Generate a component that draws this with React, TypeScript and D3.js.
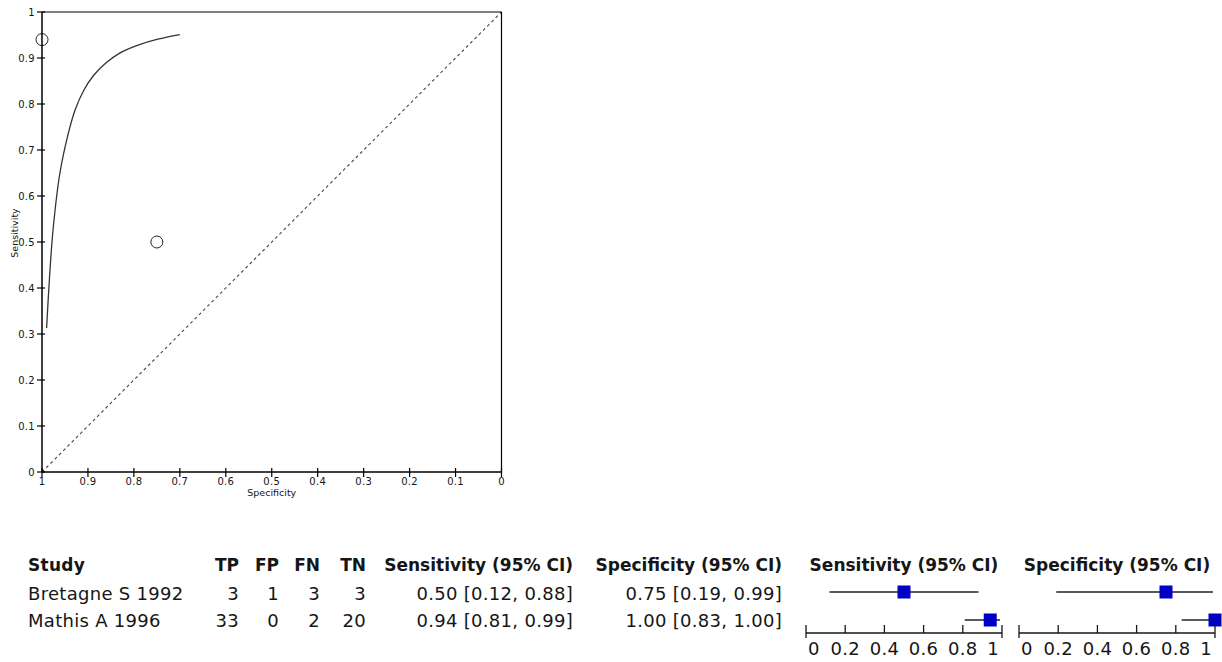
import React from "react";
import * as d3 from "d3";

// study table
const studies = ["Bretagne S 1992", "Mathis A 1996"];
const tp = [3, 33];
const fp = [1, 0];
const fn = [3, 2];
const tn = [3, 20];
const sens = [0.5, 0.94];
const sensLo = [0.12, 0.81];
const sensHi = [0.88, 0.99];
const spec = [0.75, 1.0];
const specLo = [0.19, 0.83];
const specHi = [0.99, 1.0];

// SROC curve (specificity, sensitivity)
const srocSpec = [0.99, 0.984, 0.976, 0.961, 0.943, 0.928, 0.909, 0.887, 0.861, 0.83, 0.791, 0.748, 0.7];
const srocSens = [0.313, 0.417, 0.526, 0.65, 0.735, 0.787, 0.83, 0.863, 0.889, 0.911, 0.928, 0.941, 0.951];

const rocTicks = [0, 0.1, 0.2, 0.3, 0.4, 0.5, 0.6, 0.7, 0.8, 0.9, 1];
const rocTickLabels = ["0", "0.1", "0.2", "0.3", "0.4", "0.5", "0.6", "0.7", "0.8", "0.9", "1"];
const forestTicks = [0, 0.2, 0.4, 0.6, 0.8, 1];
const forestTickLabels = ["0", "0.2", "0.4", "0.6", "0.8", "1"];

const FONT = "'DejaVu Sans', Verdana, sans-serif";
const INK = "#161616";

const ForestAxis = ({ scale, y }) => {
  const [x0, x1] = scale.range();
  return (
    <g>
      <line x1={x0} x2={x1} y1={y} y2={y} stroke={INK} strokeWidth={1.5} />
      {forestTicks.map((t, i) => {
        const end = i === 0 || i === forestTicks.length - 1;
        return (
          <line key={"t" + i} x1={scale(t)} x2={scale(t)} y1={y - 8} y2={end ? y + 5 : y}
            stroke={INK} strokeWidth={1.3} />
        );
      })}
      {forestTickLabels.map((lab, i) => {
        const first = i === 0;
        const last = i === forestTickLabels.length - 1;
        return (
          <text key={"l" + i}
            x={scale(forestTicks[i]) + (first ? 2 : last ? -3 : 0)}
            y={y + 22}
            textAnchor={first ? "start" : last ? "end" : "middle"}
            fontSize={18} letterSpacing={0.3} fill={INK}>{lab}</text>
        );
      })}
    </g>
  );
};

const ForestRows = ({ scale, est, lo, hi, rowY }) => (
  <g>
    {est.map((v, i) => (
      <g key={i}>
        <line x1={scale(lo[i])} x2={scale(hi[i])} y1={rowY[i]} y2={rowY[i]} stroke="#222" strokeWidth={1.4} />
        <rect x={scale(v) - 6.5} y={rowY[i] - 6.5} width={13} height={13} fill="#0000c4" />
      </g>
    ))}
  </g>
);

export default function App() {
  // ROC panel
  const x = d3.scaleLinear().domain([1, 0]).range([42, 501.5]);
  const y = d3.scaleLinear().domain([0, 1]).range([472, 12]);

  const curve = d3
    .line<number>()
    .x((d, i) => x(srocSpec[i]))
    .y((d) => y(d))
    .curve(d3.curveCatmullRom.alpha(0.5));

  // table + forest layout
  const headerY = 571;
  const rowBase = [600, 627];
  const rowMid = [592, 620];
  const sensScale = d3.scaleLinear().domain([0, 1]).range([806, 1002]);
  const specScale = d3.scaleLinear().domain([0, 1]).range([1019, 1215]);
  const axisY = 633;

  const cols = [
    { label: "TP", right: 239, vals: tp.map(String) },
    { label: "FP", right: 279, vals: fp.map(String) },
    { label: "FN", right: 320, vals: fn.map(String) },
    { label: "TN", right: 366, vals: tn.map(String) },
    {
      label: "Sensitivity (95% CI)", right: 573,
      vals: sens.map((v, i) => `${v.toFixed(2)} [${sensLo[i].toFixed(2)}, ${sensHi[i].toFixed(2)}]`),
    },
    {
      label: "Specificity (95% CI)", right: 782,
      vals: spec.map((v, i) => `${v.toFixed(2)} [${specLo[i].toFixed(2)}, ${specHi[i].toFixed(2)}]`),
    },
  ];

  return (
    <svg width={1222} height={662} fontFamily={FONT}
      style={{ position: "absolute", left: 0, top: 0, background: "#fff" }}>
      {/* ROC space */}
      <g>
        <line x1={x(1)} x2={x(0)} y1={y(0)} y2={y(1)} stroke="#444" strokeWidth={1.1} strokeDasharray="3,3" />
        <path d={curve(srocSens) || ""} fill="none" stroke="#333" strokeWidth={1.3} />
        {sens.map((s, i) => (
          <circle key={i} cx={x(spec[i])} cy={y(s)} r={6} fill="none" stroke="#222" strokeWidth={1} />
        ))}
        {/* frame */}
        <line x1={x(1)} x2={x(0)} y1={y(1)} y2={y(1)} stroke="#000" strokeWidth={1.2} />
        <line x1={x(0)} x2={x(0)} y1={y(1)} y2={y(0)} stroke="#000" strokeWidth={1.2} />
        <line x1={x(1)} x2={x(0)} y1={y(0)} y2={y(0)} stroke="#000" strokeWidth={1.5} />
        <line x1={x(1)} x2={x(1)} y1={y(1)} y2={y(0)} stroke="#000" strokeWidth={1.5} />
        {rocTicks.map((t, i) => (
          <g key={"y" + i}>
            <line x1={x(1) - 5} x2={x(1) + 3} y1={y(t)} y2={y(t)} stroke="#000" strokeWidth={1.2} />
            <text x={x(1) - 7} y={y(t) + 3.5} textAnchor="end" fontSize={10} letterSpacing={0.3} fill={INK}>
              {rocTickLabels[i]}
            </text>
          </g>
        ))}
        {rocTicks.map((t, i) => (
          <g key={"x" + i}>
            <line x1={x(t)} x2={x(t)} y1={y(0) - 4} y2={y(0) + 5} stroke="#000" strokeWidth={1.2} />
            <text x={x(t)} y={y(0) + 13} textAnchor="middle" fontSize={10} letterSpacing={0.3} fill={INK}>
              {rocTickLabels[i]}
            </text>
          </g>
        ))}
        <text x={(x(1) + x(0)) / 2} y={496} textAnchor="middle" fontSize={9.5} fill={INK}>Specificity</text>
        <text transform={`translate(18,233) rotate(-90)`} textAnchor="middle" fontSize={9.5} fill={INK}>Sensitivity</text>
      </g>

      {/* study table */}
      <g fill={INK} fontSize={18} letterSpacing={0.3}>
        <text x={28} y={headerY} fontWeight="bold" fontSize={17}>Study</text>
        {studies.map((s, i) => (
          <text key={s} x={28} y={rowBase[i]}>{s}</text>
        ))}
        {cols.map((c) => (
          <g key={c.label}>
            <text x={c.right} y={headerY} textAnchor="end" fontWeight="bold" fontSize={17} letterSpacing={0}>{c.label}</text>
            {c.vals.map((v, i) => (
              <text key={i} x={c.right} y={rowBase[i]} textAnchor="end">{v}</text>
            ))}
          </g>
        ))}
      </g>

      {/* forest plots */}
      <g>
        <text x={(sensScale(0) + sensScale(1)) / 2} y={headerY} textAnchor="middle" fontWeight="bold" fontSize={17} fill={INK}>
          Sensitivity (95% CI)
        </text>
        <text x={(specScale(0) + specScale(1)) / 2} y={headerY} textAnchor="middle" fontWeight="bold" fontSize={17} fill={INK}>
          Specificity (95% CI)
        </text>
        <ForestRows scale={sensScale} est={sens} lo={sensLo} hi={sensHi} rowY={rowMid} />
        <ForestRows scale={specScale} est={spec} lo={specLo} hi={specHi} rowY={rowMid} />
        <ForestAxis scale={sensScale} y={axisY} />
        <ForestAxis scale={specScale} y={axisY} />
      </g>
    </svg>
  );
}
